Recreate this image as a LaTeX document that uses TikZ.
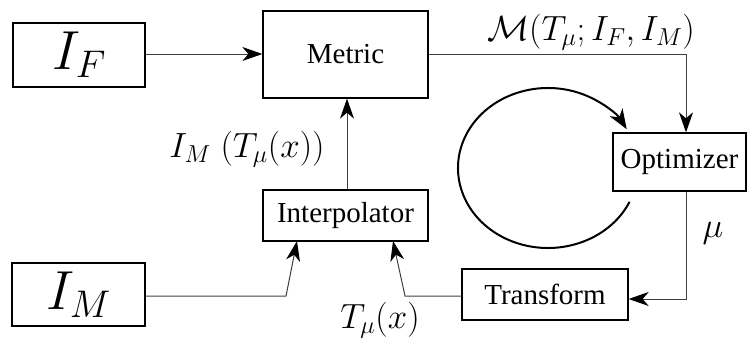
\RequirePackage{fix-cm}
\documentclass[tikz,border=0pt]{standalone}
\usepackage{fontspec}
\setmainfont{Liberation Serif}
\usetikzlibrary{arrows.meta}
\begin{document}
\begin{tikzpicture}[x=1pt,y=-1pt,
  blk/.style={draw=black,line width=1.3pt,inner sep=0pt,font=\fontsize{29}{34}\selectfont},
  conn/.style={draw=black!75,line width=1pt,-{Stealth[length=20pt,width=14pt,inset=6pt,black]}},
  lbl/.style={inner sep=0pt,font=\fontsize{35}{40}\selectfont}]
\useasboundingbox (0,0) rectangle (747,340);
\node[blk,minimum width=132pt,minimum height=64pt] (IF) at (79,55) {\fontsize{55}{60}\selectfont$I_F$};
\node[blk,minimum width=165pt,minimum height=87pt] (Metric) at (345.5,54.5) {Metric};
\node[blk,minimum width=133pt,minimum height=58pt] (Opt) at (679.5,162) {Optimizer};
\node[blk,minimum width=165pt,minimum height=51pt] (Interp) at (345.5,215.5) {Interpolator};
\node[blk,minimum width=133pt,minimum height=63pt] (IM) at (78.5,294.5) {\fontsize{55}{60}\selectfont$I_M$};
\node[blk,minimum width=166pt,minimum height=51pt] (Trans) at (545,294.5) {Transform};
\coordinate (c1) at (686,54);
\coordinate (c2) at (686,299);
\coordinate (c3) at (405,296);
\coordinate (c4) at (286,296);
\draw[conn] (IF.east |- 0,54) -- (Metric.west |- 0,54);
\draw[conn] (Metric.east |- c1) -- (c1) -- (c1 |- Opt.north);
\draw[conn] (c2 |- Opt.south) -- (c2) -- (Trans.east |- c2);
\draw[conn] (Trans.west |- c3) -- (c3) -- (393,241);
\draw[conn] (IM.east |- c4) -- (c4) -- (297,241);
\draw[conn] (Interp.north -| 347,0) -- (Metric.south -| 347,0);
\node[lbl] (lm) at (591,32) {$\mathcal{M}(T_\mu;I_F,I_M)$};
\node[lbl] (li) at (247,149) {$I_M\;(T_\mu(x))$};
\node[lbl] (lt) at (380,320) {$T_\mu(x)$};
\node[lbl] (lmu) at (713,233) {$\mu$};
\draw[line width=2pt,-{Stealth[length=20pt,width=15pt,inset=6pt]}] (548,168) ++(25:90 and 80) arc[start angle=25,end angle=331,x radius=90,y radius=80];
\end{tikzpicture}
\end{document}
